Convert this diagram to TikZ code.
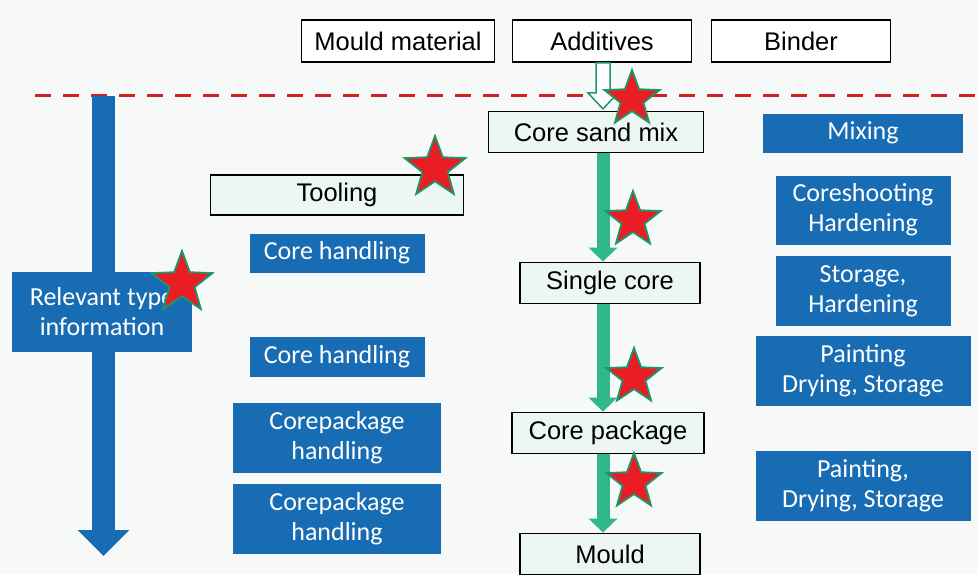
\documentclass[tikz,border=0pt]{standalone}
\usepackage{fontspec}
\setmainfont{Liberation Sans}
\newfontfamily\boxfont{Carlito}
\usetikzlibrary{arrows.meta,shapes.geometric,positioning}
\definecolor{boxblue}{RGB}{24,108,180}
\definecolor{flowgreen}{RGB}{48,184,140}
\definecolor{edgegreen}{RGB}{30,150,105}
\definecolor{mint}{RGB}{236,246,242}
\definecolor{starred}{RGB}{234,28,36}
\definecolor{linered}{RGB}{205,35,35}
\definecolor{pagebg}{RGB}{247,249,249}
\tikzset{
    input-box/.style = {draw=black, fill=white, line width=1.8pt, rectangle, inner sep=0pt, minimum height=42pt, font=\fontsize{25.5}{30}\selectfont},
    stage-box/.style = {input-box, fill=mint, minimum height=41pt},
    step-box/.style = {fill=boxblue, text=white, rectangle, inner sep=0pt, align=center, font=\boxfont\fontsize{26}{30}\selectfont},
    flow-arrow/.style = {draw=flowgreen, line width=13pt, -{Triangle[width=28pt,length=14pt]}},
    red-star/.style = {star, star points=5, star point ratio=2.4, fill=starred, draw=edgegreen, line width=1.8pt, inner sep=0pt},
}

\begin{document}
\begin{tikzpicture}[x=1pt,y=-1pt]
\fill[pagebg] (0,0) rectangle (977,574);
\useasboundingbox (0,0) rectangle (977,574);

% inputs above the line
\node[input-box, minimum width=193pt] (mould-mat) at (398,41) {Mould material};
\node[input-box, minimum width=179pt] (adds) at (602,41) {Additives};
\node[input-box, minimum width=179pt] (binder) at (801,41) {Binder};
\draw[linered, line width=3pt, dash pattern=on 16pt off 12pt] (35,95) -- (977,95);

% left: information arrow
\coordinate (info-top) at (103.5,96);
\coordinate (info-end) at (103.5,556);
\draw[boxblue, line width=23pt, -{Triangle[width=50pt,length=26pt]}] (info-top) -- (info-end);
\node[step-box, minimum width=180pt, minimum height=80pt] (info) at (102,312) {Relevant type\\information};

% middle column
\node[stage-box, minimum width=253pt, minimum height=40pt] (tooling) at (337,195) {Tooling};
\node[step-box, minimum width=175pt, minimum height=39pt] (handle-a) at (337,253) {Core handling};
\node[step-box, minimum width=175pt, minimum height=40pt] (handle-b) at (337,357) {Core handling};
\node[step-box, minimum width=208pt, minimum height=70pt] (pack-a) at (337,438) {Corepackage\\handling};
\node[step-box, minimum width=208pt, minimum height=70pt] (pack-b) at (337,519) {Corepackage\\handling};

% core chain
\node[stage-box, minimum width=215pt] (mix) at (596,132) {Core sand mix};
\node[stage-box, minimum width=180pt] (single) at (610,283) {Single core};
\node[stage-box, minimum width=192pt] (package) at (608,433) {Core package};
\node[stage-box, minimum width=180pt] (mould) at (610,554) {Mould};
\draw[edgegreen, fill=white, line width=1.5pt] ([xshift=-6pt]adds.south) -- ++(0,30) -- ++(-8,0) -- ++(15,16) -- ++(15,-16) -- ++(-8,0) -- ++(0,-30) -- cycle;
\draw[flow-arrow] ([xshift=7pt]mix.south) -- ([xshift=7pt]mix.south |- single.north);
\draw[flow-arrow] ([xshift=-7pt]single.south) -- ([xshift=-7pt]single.south |- package.north);
\draw[flow-arrow] ([xshift=-5pt]package.south) -- ([xshift=-5pt]package.south |- mould.north);

% right: process steps
\node[step-box, minimum width=200pt, minimum height=39pt] (mixing) at (863,133) {Mixing};
\node[step-box, minimum width=175pt, minimum height=69pt] (shooting) at (863,210) {Coreshooting\\Hardening};
\node[step-box, minimum width=175pt, minimum height=70pt] (storage) at (863,291) {Storage,\\Hardening};
\node[step-box, minimum width=215pt, minimum height=70pt] (paint-a) at (863,371) {Painting\\Drying, Storage};
\node[step-box, minimum width=215pt, minimum height=70pt] (paint-b) at (863,486) {Painting,\\Drying, Storage};

% marks
\node[red-star, minimum size=58pt] (star-mix) at (632,99) {};
\node[red-star, minimum size=64pt] (star-tool) at (435,168) {};
\node[red-star, minimum size=64pt] (star-info) at (182,283) {};
\node[red-star, minimum size=58pt] (star-single) at (633,220) {};
\node[red-star, minimum size=58pt] (star-pack) at (634,377) {};
\node[red-star, minimum size=58pt] (star-mould) at (634,482) {};
\end{tikzpicture}
\end{document}
